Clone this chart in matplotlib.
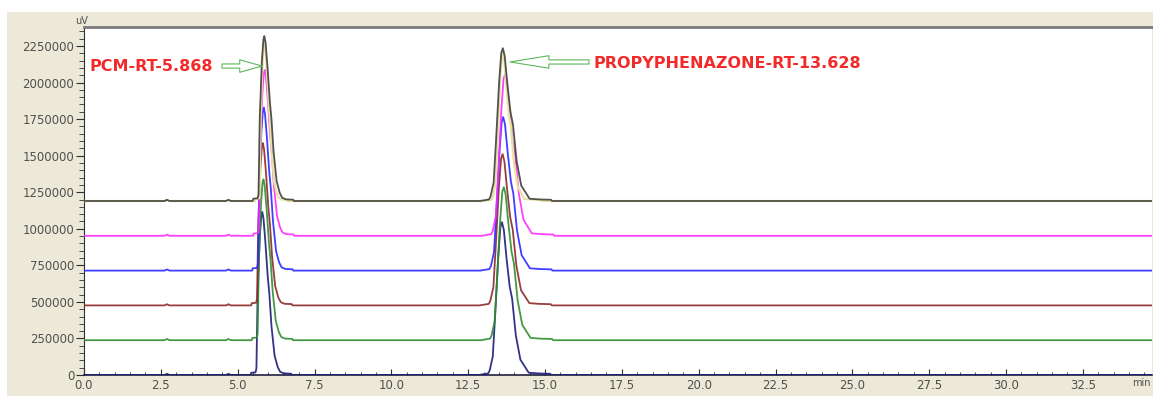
import numpy as np
import matplotlib.pyplot as plt
from matplotlib.patches import Rectangle
from matplotlib.ticker import MultipleLocator, FuncFormatter

# six overlaid chromatograms, bottom to top
colors = ['#1c1c7a', '#2f8f2f', '#8c2a2a', '#2a2aff', '#ff2cff', '#404040']
offsets = [0, 238000, 476000, 714000, 952000, 1190000]

# PCM peak: apex time (min) and height (uV) per trace
rt1 = [5.80, 5.84, 5.82, 5.85, 5.88, 5.868]
h1 = [1115000, 1100000, 1110000, 1115000, 1134000, 1128000]
# propyphenazone peak
rt2 = [13.60, 13.66, 13.62, 13.64, 13.70, 13.628]
h2 = [1045000, 1047000, 1035000, 1050000, 1105000, 1045000]

# peak shapes: time from apex and fraction of apex height
shape1_dt = [-0.60, -0.38, -0.36, -0.22, -0.19, -0.15, -0.08, -0.03, 0.0,
             0.04, 0.10, 0.18, 0.23, 0.30, 0.40, 0.50, 0.58, 0.70, 0.94, 0.96]
shape1_fr = [0, 0, 0.014, 0.016, 0.04, 0.5, 0.85, 0.98, 1.0,
             0.96, 0.82, 0.6, 0.5, 0.3, 0.12, 0.05, 0.02, 0.01, 0.008, 0]
shape2_dt = [-0.75, -0.45, -0.40, -0.30, -0.22, -0.12, -0.05, 0.0, 0.06,
             0.15, 0.25, 0.33, 0.45, 0.60, 0.87, 1.20, 1.57, 1.60]
shape2_fr = [0, 0.01, 0.03, 0.12, 0.40, 0.78, 0.97, 1.0, 0.95,
             0.76, 0.58, 0.5, 0.26, 0.10, 0.015, 0.01, 0.008, 0]

# small baseline blips
blip_t = [2.62, 2.70, 2.78, 4.62, 4.70, 4.78]
blip_y = [0, 8000, 0, 0, 8000, 0]


def trace(off, a1, p1, a2, p2, squeeze=1.0):
    d1 = np.array(shape1_dt) * squeeze
    d2 = np.array(shape2_dt) * squeeze
    x = np.concatenate([[0], blip_t, a1 + d1, a2 + d2, [35]])
    y = np.concatenate([[0], blip_y, p1 * np.array(shape1_fr),
                        p2 * np.array(shape2_fr), [0]]) + off
    return x, y


fig = plt.figure(figsize=(11.53, 3.96), dpi=100, facecolor='white')
fig.patches.append(Rectangle((7 / 1153, 0), 1, 1 - 12 / 396, transform=fig.transFigure,
                             fc='#ECE9D8', ec='none', zorder=-5))
ax = fig.add_axes([84 / 1153, 21 / 396, 1068 / 1153, 348 / 396])

for i in range(6):
    if i == 5:
        # pale yellow trace hidden under the top one
        x, y = trace(offsets[i], rt1[i], h1[i] * 0.97, rt2[i], h2[i] * 0.97, squeeze=0.8)
        ax.plot(x, y, color='#e8e2a0', lw=1.6, zorder=2 + i)
    x, y = trace(offsets[i], rt1[i], h1[i], rt2[i], h2[i])
    ax.plot(x, y, color=colors[i], lw=1.3, alpha=0.9, zorder=3 + i)

ax.set_xlim(0, 34.75)
ax.set_ylim(0, 2380000)

ax.xaxis.set_major_locator(MultipleLocator(2.5))
ax.xaxis.set_minor_locator(MultipleLocator(0.5))
ax.yaxis.set_major_locator(MultipleLocator(250000))
ax.yaxis.set_minor_locator(MultipleLocator(50000))
ax.xaxis.set_major_formatter(FuncFormatter(lambda v, p: f'{v:.1f}'))
ax.yaxis.set_major_formatter(FuncFormatter(lambda v, p: f'{int(v)}'))

ax.tick_params(axis='x', which='both', direction='in', colors='#303030',
               labelcolor='#505050', labelsize=8.5, pad=3)
ax.tick_params(axis='x', which='major', length=4)
ax.tick_params(axis='x', which='minor', length=2)
ax.tick_params(axis='y', which='both', direction='out', colors='#303030',
               labelcolor='#505050', labelsize=8.5, pad=1)
ax.tick_params(axis='y', which='major', length=6)
ax.tick_params(axis='y', which='minor', length=3.5)

ax.spines['right'].set_visible(False)
ax.spines['top'].set_color('#7a7a7a')
ax.spines['top'].set_linewidth(2)
ax.spines['left'].set_color('#303030')
ax.spines['bottom'].set_color('#202040')
ax.spines['bottom'].set_linewidth(1.2)

fig.text(82 / 1153, 1 - 21 / 396, 'uV', fontsize=7, color='#505050', ha='center', va='center')
fig.text(1132 / 1153, 1 - 383 / 396, 'min', fontsize=7, color='#505050', ha='left', va='center')

red = '#f22a2a'
green = '#5cb85c'
ax.text(0.195, 2081000, 'PCM-RT-5.868', color=red, fontsize=11.5, fontweight='bold',
        ha='left', va='baseline', zorder=20)
ax.annotate('', xy=(5.79, 2113000), xytext=(4.49, 2113000),
            arrowprops=dict(arrowstyle='simple,head_length=1.6,head_width=0.9,tail_width=0.3',
                            fc='white', ec=green, lw=0.8, shrinkA=0, shrinkB=0,
                            mutation_scale=10), zorder=20)
ax.text(16.59, 2100000, 'PROPYPHENAZONE-RT-13.628', color=red, fontsize=11.5,
        fontweight='bold', ha='left', va='baseline', zorder=20)
ax.annotate('', xy=(13.86, 2141000), xytext=(16.43, 2141000),
            arrowprops=dict(arrowstyle='simple,head_length=2.8,head_width=0.9,tail_width=0.3',
                            fc='white', ec=green, lw=0.8, shrinkA=0, shrinkB=0,
                            mutation_scale=10), zorder=20)

fig.savefig('out.png', dpi=100)
